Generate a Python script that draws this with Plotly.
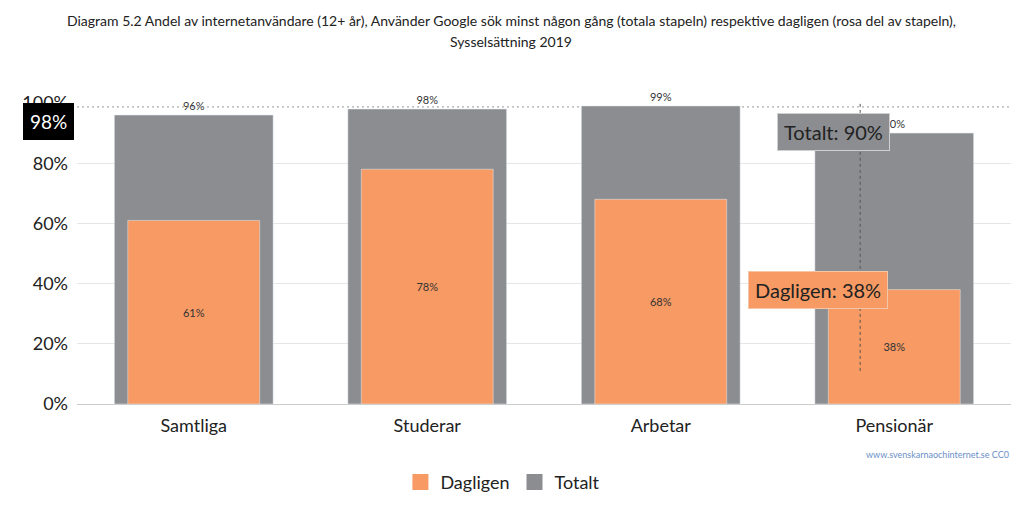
import plotly.graph_objects as go

categories = ["Samtliga", "Studerar", "Arbetar", "Pensionär"]
totalt = [96, 98, 99, 90]
dagligen = [61, 78, 68, 38]
y_ticks = [0, 20, 40, 60, 80, 100]
y_tick_labels = [f"{v}%" for v in y_ticks]
title_lines = [
    "Diagram 5.2 Andel av internetanvändare (12+ år), Använder Google sök minst någon gång (totala stapeln) respektive dagligen (rosa del av stapeln),",
    "Sysselsättning 2019",
]

orange = "#f79a63"
gray = "#8b8d90"
font = "Lato"

fig = go.Figure()
fig.add_trace(go.Bar(
    x=categories, y=totalt, name="Totalt", marker_color=gray, width=0.68,
    text=[f"{v}%" for v in totalt], textposition="outside",
    textfont=dict(size=11, color="#333", family=font), cliponaxis=False,
    showlegend=False,
))
fig.add_trace(go.Bar(
    x=categories, y=dagligen, name="Dagligen", marker_color=orange, width=0.565,
    text=[f"{v}%" for v in dagligen], textposition="inside", insidetextanchor="middle",
    textfont=dict(size=11, color="#333", family=font),
    showlegend=False,
))
# legend entries with larger square swatches
for name, col in [("Dagligen", orange), ("Totalt", gray)]:
    fig.add_trace(go.Scatter(x=[None], y=[None], mode="markers", name=name,
                             marker=dict(symbol="square", size=20, color=col)))

# crosshair lines
fig.add_shape(type="line", xref="paper", x0=0, x1=1, y0=98.7, y1=98.7,
              line=dict(color="#999", width=1, dash="2px,3px"))
fig.add_shape(type="line", x0=2.854, x1=2.854, y0=11, y1=100,
              line=dict(color="#555", width=1, dash="3px,3px"))

# tooltips
fig.add_annotation(xref="paper", yref="paper", x=-0.003, y=1.0, text="98%", showarrow=False,
                   xanchor="right", yanchor="top", bgcolor="black",
                   font=dict(color="white", size=19, family=font),
                   borderpad=6, bordercolor="black")
fig.add_annotation(x=2.983, y=90.3, text="Totalt: 90%", showarrow=False, xanchor="right", yanchor="middle",
                   bgcolor="#8b8d90", bordercolor="#d0d0d0", borderwidth=1, borderpad=6,
                   font=dict(color="#222", size=20, family=font))
fig.add_annotation(x=2.975, y=38, text="Dagligen: 38%", showarrow=False, xanchor="right", yanchor="middle",
                   bgcolor=orange, bordercolor="#f3c6a8", borderwidth=1, borderpad=6,
                   font=dict(color="#222", size=20, family=font))

# title lines
for txt, yp in zip(title_lines, [1.2757, 1.2027]):
    fig.add_annotation(xref="paper", yref="paper", x=0.465, y=yp, text=txt, showarrow=False,
                       xanchor="center", yanchor="middle",
                       font=dict(size=14, color="#222", family=font))

# watermark
fig.add_annotation(xref="paper", yref="paper", x=1, y=-0.168, text="www.svenskarnaochinternet.se CC0",
                   showarrow=False, xanchor="right", yanchor="middle",
                   font=dict(size=9, color="#6a8fc8", family=font))

fig.update_layout(
    width=1024, height=518,
    barmode="overlay",
    paper_bgcolor="white", plot_bgcolor="white",
    margin=dict(l=77, r=13, t=103, b=114, autoexpand=False),
    xaxis=dict(tickfont=dict(size=18, color="#222", family=font), showline=True,
               linecolor="#ccc", ticks="", showgrid=False, automargin=False,
               ticklabelstandoff=5),
    yaxis=dict(range=[0, 100], tickvals=y_ticks, ticktext=y_tick_labels,
               tickfont=dict(size=18, color="#222", family=font), showgrid=True,
               gridcolor="#e6e6e6", zeroline=False, ticks="", ticklabelstandoff=8,
               automargin=False),
    legend=dict(orientation="h", x=0.456, xanchor="center", y=-0.26, yanchor="middle",
                font=dict(size=18, color="#222", family=font), itemwidth=30),
)

fig.write_html("out.html", post_script="document.body.style.margin='0px';",
               config={"displayModeBar": False})
